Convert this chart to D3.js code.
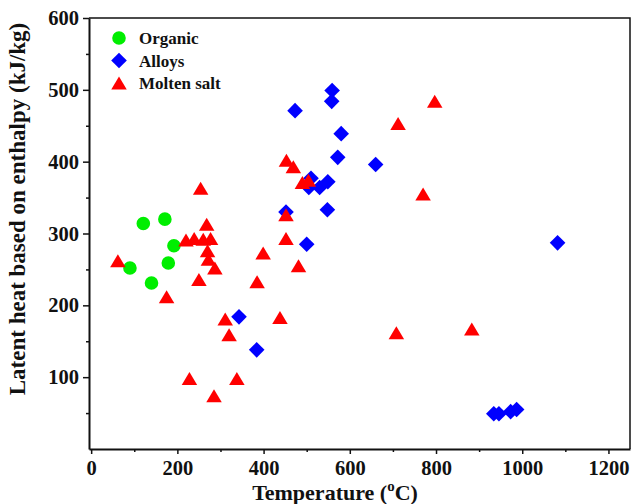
<!DOCTYPE html>
<html>
<head>
<meta charset="utf-8">
<script src="https://d3js.org/d3.v7.min.js"></script>
<style>
  body { margin: 0; background: #fff; }
  text { font-family: "Liberation Serif", "Times New Roman", serif; font-weight: bold; }
  svg g.major text { font: bold 20.5px "Liberation Serif", serif; fill: #111; }
</style>
</head>
<body>
<div id="chart"></div>
<script>
// data: temperature (C), latent heat (kJ/kg)
var organicT   = [90, 121, 140, 171, 179, 192];
var organicH   = [252, 314, 231, 320, 259, 283];

var alloysT    = [343, 384, 452, 473, 500, 505, 510, 530, 549, 548, 558, 559, 572, 580, 660, 934, 946, 973, 987, 1082];
var alloysH    = [184, 138, 330, 471, 285, 364, 377, 364, 372, 333, 484, 499, 406, 439, 396, 49, 49, 52, 55, 287];

var saltT      = [62, 175, 220, 239, 250, 254, 260, 268, 270, 272, 277, 287, 228, 285, 311, 320, 338, 385, 399, 438,
                  452, 452, 453, 469, 481, 490, 504, 708, 712, 770, 797, 883];
var saltH      = [262, 212, 291, 293, 236, 363, 292, 313, 276, 264, 293, 252, 98, 74, 181, 159, 98, 233, 273, 183,
                  293, 326, 402, 393, 255, 371, 374, 162, 453, 355, 484, 167];

var seriesNames = ["Organic", "Alloys", "Molten salt"];
var xTicks = [0, 200, 400, 600, 800, 1000, 1200];
var yTicks = [100, 200, 300, 400, 500, 600];

// set the dimensions and margins of the graph
var W = 631, H = 504;
var margin = {top: 18, right: 1, bottom: 55, left: 89},
    width = W - margin.left - margin.right,
    height = H - margin.top - margin.bottom;

var svg = d3.select("#chart")
  .append("svg")
    .attr("width", W)
    .attr("height", H);

var g = svg.append("g")
    .attr("transform", "translate(" + margin.left + "," + margin.top + ")");

// scales
var x = d3.scaleLinear().domain([-5, 1250]).range([0, width]);
var y = d3.scaleLinear().domain([0, 600]).range([height, 0]);

// frame (top + right)
g.append("path")
    .attr("d", "M0,0H" + width + "V" + height)
    .attr("fill", "none")
    .attr("stroke", "#111")
    .attr("stroke-width", 1.5);

// x axis with minor ticks
g.append("g")
    .attr("class", "major")
    .attr("transform", "translate(0," + height + ")")
    .call(d3.axisBottom(x).tickValues(xTicks).tickFormat(d3.format("d")).tickSize(5).tickPadding(6).tickSizeOuter(0));
g.append("g")
    .attr("transform", "translate(0," + height + ")")
    .call(d3.axisBottom(x).tickValues(d3.range(100, 1300, 200)).tickSize(3).tickFormat("").tickSizeOuter(0))
    .select(".domain").remove();

// y axis with minor ticks
g.append("g")
    .attr("class", "major")
    .call(d3.axisLeft(y).tickValues(yTicks).tickFormat(d3.format("d")).tickSize(6).tickPadding(4).tickSizeOuter(0));
g.append("g")
    .call(d3.axisLeft(y).tickValues(d3.range(50, 600, 100)).tickSize(3).tickFormat("").tickSizeOuter(0))
    .select(".domain").remove();

g.selectAll(".domain").attr("stroke", "#111").attr("stroke-width", 2);
g.selectAll(".tick line").attr("stroke", "#111").attr("stroke-width", 1.5);

// marker shapes (sized in px)
function circlePath(r) { return d3.symbol(d3.symbolCircle, Math.PI * r * r)(); }
function diamondPath(s) { return "M0," + (-s) + "L" + s + ",0L0," + s + "L" + (-s) + ",0Z"; }
function trianglePath(w, h) { return "M0," + (-h / 2) + "L" + (w / 2) + "," + (h / 2) + "L" + (-w / 2) + "," + (h / 2) + "Z"; }

var markers = [
  {name: seriesNames[0], T: organicT, H: organicH, color: "#00ee00", d: circlePath(6.8)},
  {name: seriesNames[1], T: alloysT,  H: alloysH,  color: "#0000ff", d: diamondPath(7.8)},
  {name: seriesNames[2], T: saltT,    H: saltH,    color: "#ff0000", d: trianglePath(15.5, 13)}
];

markers.forEach(function(m) {
  g.append("g")
    .selectAll("path")
    .data(d3.range(m.T.length))
    .enter()
    .append("path")
      .attr("d", m.d)
      .attr("fill", m.color)
      .attr("transform", function(i) { return "translate(" + x(m.T[i]) + "," + y(m.H[i]) + ")"; });
});

// legend
var legend = svg.append("g").attr("transform", "translate(119,38)");
markers.forEach(function(m, i) {
  var row = legend.append("g").attr("transform", "translate(0," + (i * 22.5) + ")");
  row.append("path").attr("d", m.d).attr("fill", m.color);
  row.append("text")
      .attr("x", 20)
      .attr("y", 6)
      .style("font-size", "17px")
      .attr("fill", "#111")
      .text(m.name);
});

// axis titles
svg.append("text")
    .attr("transform", "translate(25,209) rotate(-90)")
    .attr("text-anchor", "middle")
    .style("font-size", "23px")
    .attr("fill", "#111")
    .text("Latent heat based on enthalpy (kJ/kg)");

var xt = svg.append("text")
    .attr("x", 335)
    .attr("y", 500)
    .attr("text-anchor", "middle")
    .style("font-size", "22px")
    .attr("fill", "#111");
xt.append("tspan").text("Temperature (");
xt.append("tspan").attr("dy", -9).style("font-size", "15px").text("o");
xt.append("tspan").attr("dy", 9).text("C)");
</script>
</body>
</html>
